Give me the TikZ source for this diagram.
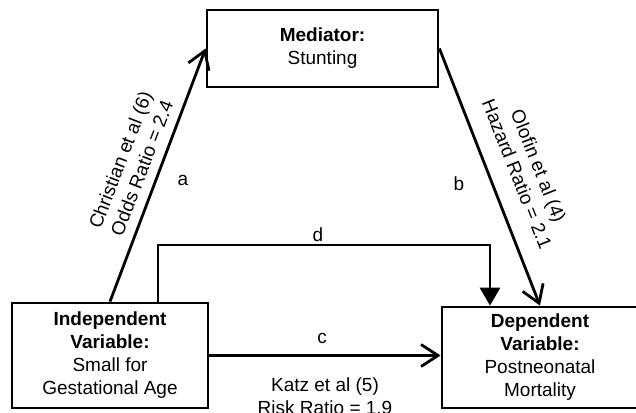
\documentclass[tikz,border=0pt]{standalone}
\usepackage{fontspec}
\setmainfont{Liberation Sans}
\usetikzlibrary{arrows.meta}
\begin{document}
\begin{tikzpicture}[x=1pt,y=-1pt,
  every node/.style={font=\fontsize{19}{23}\selectfont},
  box/.style={draw, line width=2.8pt, align=center, inner sep=0pt},
  conn/.style={line width=2.8pt},
  barb/.style={-{Straight Barb[length=17pt,width=22pt,line width=2.8pt]}},
  tri/.style={-{Triangle[length=18pt,width=20pt]}},
  lbl/.style={inner sep=0pt, align=center}]
\useasboundingbox (0,0) rectangle (636,412);
\fill[white] (0,0) rectangle (636,412);
\node[box, minimum width=231pt, minimum height=77pt] (med) at (322.5,48.5) {\textbf{Mediator:}\\Stunting};
\node[box, minimum width=196pt, minimum height=105pt] (ind) at (110,355.5) {\textbf{Independent}\\\textbf{Variable:}\\Small for\\Gestational Age};
\node[box, minimum width=196pt, minimum height=101pt] (dep) at (540,357.5) {\textbf{Dependent}\\\textbf{Variable:}\\Postneonatal\\Mortality};
\coordinate (dl) at (158,245);
\draw[conn, barb] (ind.north) -- (med.west);
\draw[conn, barb] (med.east) -- (dep.north);
\draw[conn, tri] (dl |- ind.north) -- (dl) -| ([xshift=-50pt]dep.north);
\draw[conn, barb] (ind.east) -- (ind.east -| dep.west);
\node[lbl] (la) at (183,180) {a};
\node[lbl] (lb) at (459,184) {b};
\node[lbl] (ld) at (318,235) {d};
\node[lbl] (lc) at (322,338) {c};
\node[lbl] (lk) at (325,396) {Katz et al (5)\\Risk Ratio = 1.9};
\node[lbl, rotate=69] (lca) at (131,164) {Christian et al (6)\\Odds Ratio = 2.4};
\node[lbl, rotate=-68.4] (lob) at (528,170) {Olofin et al (4)\\Hazard Ratio = 2.1};
\end{tikzpicture}
\end{document}
